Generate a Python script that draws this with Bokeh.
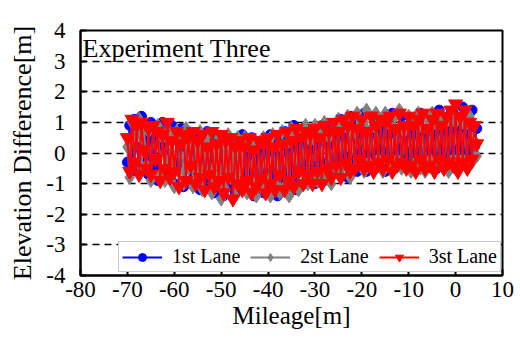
from bokeh.plotting import figure
from bokeh.models import Legend, LegendItem, FixedTicker, Label, Range1d
from bokeh.embed import file_html
from bokeh.resources import INLINE

FONT = "Liberation Serif"

x_tick_values = [-80, -70, -60, -50, -40, -30, -20, -10, 0, 10]
x_tick_labels = ["-80", "-70", "-60", "-50", "-40", "-30", "-20", "-10", "0", "10"]
y_tick_values = [-4, -3, -2, -1, 0, 1, 2, 3, 4]
y_tick_labels = ["-4", "-3", "-2", "-1", "0", "1", "2", "3", "4"]

mileage = [
    -70.0, -69.5, -69.0, -68.5, -68.0, -67.5, -67.0, -66.5, -66.0, -65.5,
    -65.0, -64.5, -64.0, -63.5, -63.0, -62.5, -62.0, -61.5, -61.0, -60.5,
    -60.0, -59.5, -59.0, -58.5, -58.0, -57.5, -57.0, -56.5, -56.0, -55.5,
    -55.0, -54.5, -54.0, -53.5, -53.0, -52.5, -52.0, -51.5, -51.0, -50.5,
    -50.0, -49.5, -49.0, -48.5, -48.0, -47.5, -47.0, -46.5, -46.0, -45.5,
    -45.0, -44.5, -44.0, -43.5, -43.0, -42.5, -42.0, -41.5, -41.0, -40.5,
    -40.0, -39.5, -39.0, -38.5, -38.0, -37.5, -37.0, -36.5, -36.0, -35.5,
    -35.0, -34.5, -34.0, -33.5, -33.0, -32.5, -32.0, -31.5, -31.0, -30.5,
    -30.0, -29.5, -29.0, -28.5, -28.0, -27.5, -27.0, -26.5, -26.0, -25.5,
    -25.0, -24.5, -24.0, -23.5, -23.0, -22.5, -22.0, -21.5, -21.0, -20.5,
    -20.0, -19.5, -19.0, -18.5, -18.0, -17.5, -17.0, -16.5, -16.0, -15.5,
    -15.0, -14.5, -14.0, -13.5, -13.0, -12.5, -12.0, -11.5, -11.0, -10.5,
    -10.0, -9.5, -9.0, -8.5, -8.0, -7.5, -7.0, -6.5, -6.0, -5.5,
    -5.0, -4.5, -4.0, -3.5, -3.0, -2.5, -2.0, -1.5, -1.0, -0.5,
    0.0, 0.5, 1.0, 1.5, 2.0, 2.5, 3.0, 3.5, 4.0, 4.5,
]

lane1 = [
    -0.3, 0.9, -0.6, 1.1, 0.2, -0.5, 1.2, -0.2, 0.8, -0.7,
    1.0, -0.4, 0.7, -0.9, 0.3, 1.0, -0.6, 0.6, -0.8, 0.9,
    -1.0, 0.5, -0.3, 0.8, -1.1, 0.2, 0.7, -0.9, 0.4, -0.6,
    0.6, -1.2, 0.1, -0.8, 0.7, -1.0, 0.3, -1.3, 0.5, -0.7,
    0.4, -1.4, 0.0, 0.5, -1.1, 0.3, -1.3, 0.2, -0.9, 0.6,
    -1.2, 0.3, -0.8, 0.5, -1.4, 0.1, -1.0, 0.4, -1.3, 0.2,
    -1.1, 0.6, -0.7, 0.3, -1.4, 0.5, -0.9, 0.7, -1.2, 0.4,
    -0.8, 0.9, -1.2, 0.4, -0.5, 0.8, -1.0, 0.6, -0.9, 0.5,
    -1.0, 0.7, -0.4, 0.9, -0.8, 0.3, -0.9, 0.8, -0.5, 0.6,
    -0.6, 1.1, -0.3, 0.8, -0.8, 1.2, -0.2, 0.9, -0.6, 1.0,
    -0.4, 1.3, -0.6, 0.7, -0.2, 1.2, -0.5, 0.9, 0.0, 1.1,
    -0.6, 1.0, -0.3, 1.3, -0.5, 0.6, -0.1, 1.2, -0.4, 0.8,
    -0.5, 1.1, -0.2, 0.9, -0.5, 1.3, -0.3, 0.7, -0.4, 1.2,
    -0.2, 1.0, -0.5, 1.4, -0.3, 0.8, -0.4, 1.2, -0.1, 1.3,
    -0.5, 1.0, -0.2, 1.5, -0.4, 1.1, -0.3, 1.4, 0.2, 0.8,
]

lane2 = [
    0.2, -0.8, 1.0, -0.3, 0.6, 1.1, -0.5, 0.9, -0.4, 0.7,
    -0.9, 0.8, -0.2, 0.9, -0.7, 0.5, -0.9, 0.8, -0.3, 0.6,
    -1.1, 0.7, -0.6, 0.4, -1.0, 0.8, -0.5, 0.6, -1.1, 0.3,
    -0.8, 0.7, -1.2, 0.4, -0.6, 0.6, -1.3, 0.2, -1.0, 0.5,
    -1.5, 0.3, -1.2, 0.6, -0.8, 0.2, -1.4, 0.5, -1.0, 0.1,
    0.5, -1.3, 0.2, -0.9, 0.4, -1.4, 0.3, -1.1, 0.5, -0.8,
    0.4, -1.4, 0.6, -1.0, 0.2, -1.3, 0.7, -1.1, 0.3, -1.4,
    0.8, -1.1, 0.5, -1.2, 0.7, -0.7, 0.9, -1.0, 0.4, -0.8,
    0.9, -0.9, 0.6, -0.6, 1.0, -0.8, 0.5, -1.0, 0.8, -0.5,
    1.1, -0.7, 0.8, -0.4, 1.2, -0.8, 0.6, -0.5, 1.3, -0.3,
    1.0, -0.6, 1.4, -0.3, 0.8, -0.5, 1.3, -0.2, 1.1, -0.6,
    1.3, -0.4, 0.9, -0.6, 1.2, -0.2, 1.4, -0.5, 0.7, -0.4,
    1.2, -0.6, 1.0, -0.3, 1.3, -0.5, 0.8, -0.6, 1.1, -0.2,
    1.3, -0.6, 0.9, -0.3, 1.2, -0.5, 1.0, -0.6, 1.3, -0.2,
    1.0, -0.4, 1.1, -0.2, 0.9, -0.5, 1.2, -0.3, 0.4, -0.1,
]

lane3 = [
    0.5, -0.6, 1.1, -0.3, 0.9, -0.7, 1.0, 0.1, -0.5, 0.8,
    -0.7, 0.9, -0.2, 0.7, -0.9, 0.6, -0.5, 1.0, -0.8, 0.4,
    -0.6, 0.7, -1.1, 0.3, 0.6, -0.9, 0.5, -0.4, 0.7, -1.0,
    0.4, -0.8, 0.6, -1.2, 0.2, -0.7, 0.7, -1.1, 0.3, -0.9,
    0.6, -1.3, 0.4, -0.8, 0.5, -1.5, 0.2, -1.0, 0.4, -1.2,
    0.2, -0.9, 0.5, -1.3, 0.1, -1.1, 0.4, -0.8, 0.3, -1.3,
    0.5, -1.0, 0.2, -1.2, 0.6, -0.7, 0.3, -1.2, 0.7, -0.9,
    0.4, -1.1, 0.8, -0.6, 0.5, -1.0, 0.7, -0.7, 0.6, -1.0,
    0.8, -0.6, 0.5, -1.0, 0.9, -0.5, 0.7, -0.8, 1.0, -0.4,
    0.7, -0.8, 1.1, -0.3, 0.9, -0.6, 1.2, -0.5, 0.8, -0.2,
    1.1, -0.5, 0.7, -0.4, 1.2, -0.6, 0.9, -0.3, 1.1, -0.5,
    1.0, -0.2, 1.2, -0.6, 0.8, -0.4, 1.3, -0.3, 0.9, -0.5,
    1.2, -0.4, 0.9, -0.6, 1.1, -0.2, 1.3, -0.5, 0.8, -0.4,
    1.1, -0.6, 1.3, -0.2, 0.9, -0.5, 1.2, -0.3, 1.4, -0.4,
    1.6, -0.6, 1.2, -0.3, 1.4, -0.5, 1.0, -0.2, 0.9, 0.3,
]

labels = ["1st Lane", "2st Lane", "3st Lane"]
colors = ["#0000ff", "#808080", "#ff0000"]

p = figure(width=520, height=342, output_backend="svg", toolbar_location=None,
           x_range=Range1d(-80, 10), y_range=Range1d(-4, 4))
p.min_border_left = 80
p.min_border_right = 18
p.min_border_top = 30
p.min_border_bottom = 67

p.outline_line_color = "black"
p.outline_line_width = 2
p.outline_line_alpha = 1

p.xgrid.visible = False
p.ygrid.grid_line_color = "black"
p.ygrid.grid_line_dash = "7 5"
p.ygrid.grid_line_width = 1.5

p.xaxis.ticker = FixedTicker(ticks=x_tick_values)
p.yaxis.ticker = FixedTicker(ticks=y_tick_values)
p.xaxis.major_label_overrides = {v: s for v, s in zip(x_tick_values, x_tick_labels)}
p.yaxis.major_label_overrides = {v: s for v, s in zip(y_tick_values, y_tick_labels)}

for ax in [p.xaxis[0], p.yaxis[0]]:
    ax.axis_line_width = 2
    ax.axis_line_color = "black"
    ax.major_tick_in = 6
    ax.major_tick_out = 0
    ax.major_tick_line_width = 2
    ax.minor_tick_line_color = None
    ax.major_label_text_font = FONT
    ax.major_label_text_font_size = "23px"
    ax.major_label_text_color = "black"
    ax.axis_label_text_font = FONT
    ax.axis_label_text_font_style = "normal"
    ax.axis_label_text_color = "black"

p.xaxis.axis_label = "Mileage[m]"
p.yaxis.axis_label = "Elevation Difference[m]"
p.xaxis.axis_label_text_font_size = "25px"
p.yaxis.axis_label_text_font_size = "26px"
p.xaxis.major_label_standoff = 6
p.xaxis.axis_label_standoff = 2
p.yaxis.major_label_standoff = 15
p.yaxis.axis_label_standoff = 6

l1 = p.line(mileage, lane1, line_color=colors[0], line_width=2)
s1 = p.scatter(mileage, lane1, marker="circle", size=10, fill_color=colors[0], line_color=colors[0])
l2 = p.line(mileage, lane2, line_color=colors[1], line_width=2)
s2 = p.scatter(mileage, lane2, marker="diamond", size=14, fill_color=colors[1], line_color=colors[1])
l3 = p.line(mileage, lane3, line_color=colors[2], line_width=2)
s3 = p.scatter(mileage, lane3, marker="inverted_triangle", size=14, fill_color=colors[2], line_color=colors[2])

title = Label(x=-80, y=4, text="Experiment Three", x_offset=2, y_offset=-3,
              text_baseline="top", text_font=FONT, text_font_size="26px", text_color="black")
p.add_layout(title)

legend = Legend(items=[
    LegendItem(label=labels[0], renderers=[l1, s1]),
    LegendItem(label=labels[1], renderers=[l2, s2]),
    LegendItem(label=labels[2], renderers=[l3, s3]),
], orientation="horizontal", location=(38, 3))
legend.label_text_font = FONT
legend.label_text_font_size = "20px"
legend.label_text_color = "black"
legend.glyph_width = 40
legend.glyph_height = 20
legend.label_standoff = 10
legend.spacing = 10
legend.padding = 3
legend.margin = 0
legend.border_line_color = "#999999"
legend.border_line_width = 1.5
legend.background_fill_alpha = 1
p.add_layout(legend, "center")

open("out.html", "w").write(file_html(p, INLINE))
